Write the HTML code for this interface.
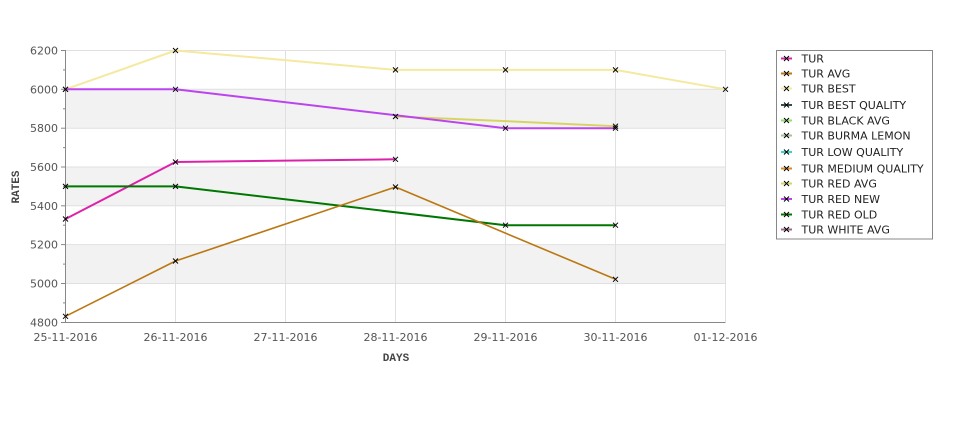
<!DOCTYPE html>
<html><head><meta charset="utf-8"><style>
html,body{margin:0;padding:0;background:#fff;}
svg{display:block;}
text{font-family:"DejaVu Sans","Liberation Sans",sans-serif;}
</style></head><body>
<svg width="975" height="429" viewBox="0 0 975 429" xmlns="http://www.w3.org/2000/svg">
<defs>
<g id="m"><path d="M-2.5,-2.5L2.5,2.5M-2.5,2.5L2.5,-2.5" stroke="#000" stroke-width="1" fill="none"/></g>
</defs>
<!-- bands -->
<rect x="65.5" y="89.2" width="660" height="38.9" fill="#f2f2f2"/>
<rect x="65.5" y="166.8" width="660" height="38.9" fill="#f2f2f2"/>
<rect x="65.5" y="244.4" width="660" height="38.9" fill="#f2f2f2"/>
<!-- grid -->
<g stroke="#e0e0e0" stroke-width="1">
<line x1="65.5" x2="725.5" y1="50.5" y2="50.5"/>
<line x1="65.5" x2="725.5" y1="89.3" y2="89.3"/>
<line x1="65.5" x2="725.5" y1="128.2" y2="128.2"/>
<line x1="65.5" x2="725.5" y1="167" y2="167"/>
<line x1="65.5" x2="725.5" y1="205.8" y2="205.8"/>
<line x1="65.5" x2="725.5" y1="244.6" y2="244.6"/>
<line x1="65.5" x2="725.5" y1="283.5" y2="283.5"/>
<line x1="175.5" x2="175.5" y1="50" y2="322"/>
<line x1="285.5" x2="285.5" y1="50" y2="322"/>
<line x1="395.5" x2="395.5" y1="50" y2="322"/>
<line x1="505.5" x2="505.5" y1="50" y2="322"/>
<line x1="615.5" x2="615.5" y1="50" y2="322"/>
<line x1="725.5" x2="725.5" y1="50" y2="322"/>
</g>
<!-- axes -->
<g stroke="#888" stroke-width="1">
<line x1="65.5" x2="65.5" y1="50" y2="322.5"/>
<line x1="65" x2="725.5" y1="322.5" y2="322.5"/>
<line x1="61" x2="65.5" y1="50.5" y2="50.5"/>
<line x1="61" x2="65.5" y1="89.3" y2="89.3"/>
<line x1="61" x2="65.5" y1="128.2" y2="128.2"/>
<line x1="61" x2="65.5" y1="167" y2="167"/>
<line x1="61" x2="65.5" y1="205.8" y2="205.8"/>
<line x1="61" x2="65.5" y1="244.6" y2="244.6"/>
<line x1="61" x2="65.5" y1="283.5" y2="283.5"/>
<line x1="61" x2="65.5" y1="322.5" y2="322.5"/>
<line x1="63" x2="65.5" y1="69.9" y2="69.9"/>
<line x1="63" x2="65.5" y1="108.8" y2="108.8"/>
<line x1="63" x2="65.5" y1="147.6" y2="147.6"/>
<line x1="63" x2="65.5" y1="186.4" y2="186.4"/>
<line x1="63" x2="65.5" y1="225.2" y2="225.2"/>
<line x1="63" x2="65.5" y1="264.1" y2="264.1"/>
<line x1="63" x2="65.5" y1="302.9" y2="302.9"/>
</g>
<!-- y labels -->
<g font-size="11" fill="#555" text-anchor="end">
<text x="58" y="54.5">6200</text>
<text x="58" y="93.3">6000</text>
<text x="58" y="132.2">5800</text>
<text x="58" y="171">5600</text>
<text x="58" y="209.8">5400</text>
<text x="58" y="248.6">5200</text>
<text x="58" y="287.5">5000</text>
<text x="58" y="326.5">4800</text>
</g>
<!-- x labels -->
<g font-size="11" fill="#555" text-anchor="middle">
<text x="65.5" y="341">25-11-2016</text>
<text x="175.5" y="341">26-11-2016</text>
<text x="285.5" y="341">27-11-2016</text>
<text x="395.5" y="341">28-11-2016</text>
<text x="505.5" y="341">29-11-2016</text>
<text x="615.5" y="341">30-11-2016</text>
<text x="725.5" y="341">01-12-2016</text>
</g>
<text x="396" y="361" font-size="11" font-weight="bold" fill="#444" text-anchor="middle" style="font-family:'Liberation Mono',monospace">DAYS</text>
<text transform="translate(19,187) rotate(-90)" font-size="11" font-weight="bold" fill="#444" text-anchor="middle" style="font-family:'Liberation Mono',monospace">RATES</text>
<!-- series -->
<g fill="none" stroke-linejoin="round">
<polyline stroke="#f5e9a0" stroke-width="2" points="65.5,89.3 175.5,50.5 395.5,69.9 505.5,69.9 615.5,69.9 725.5,89.3"/>
<polyline stroke="#d8d464" stroke-width="2" points="395.5,116.5 505.5,121.1 615.5,126.2"/>
<polyline stroke="#bb44ee" stroke-width="2" points="65.5,89.3 175.5,89.3 505.5,128.2 615.5,128.2"/>
<polyline stroke="#dd22aa" stroke-width="2" points="65.5,219 175.5,162 395.5,159.3"/>
<polyline stroke="#007700" stroke-width="2" points="65.5,186.4 175.5,186.4 505.5,225.2 615.5,225.2"/>
<polyline stroke="#bb7711" stroke-width="1.6" points="65.5,316.3 175.5,261 395.5,187 615.5,279.3"/>
</g>
<!-- markers -->
<g>
<use href="#m" x="65.5" y="89.3"/><use href="#m" x="175.5" y="50.5"/><use href="#m" x="395.5" y="69.9"/><use href="#m" x="505.5" y="69.9"/><use href="#m" x="615.5" y="69.9"/><use href="#m" x="725.5" y="89.3"/>
<use href="#m" x="395.5" y="116.5"/><use href="#m" x="615.5" y="126.2"/>
<use href="#m" x="65.5" y="89.3"/><use href="#m" x="175.5" y="89.3"/><use href="#m" x="505.5" y="128.2"/><use href="#m" x="615.5" y="128.2"/>
<use href="#m" x="65.5" y="219"/><use href="#m" x="175.5" y="162"/><use href="#m" x="395.5" y="159.3"/>
<use href="#m" x="65.5" y="186.4"/><use href="#m" x="175.5" y="186.4"/><use href="#m" x="505.5" y="225.2"/><use href="#m" x="615.5" y="225.2"/>
<use href="#m" x="65.5" y="316.3"/><use href="#m" x="175.5" y="261"/><use href="#m" x="395.5" y="187"/><use href="#m" x="615.5" y="279.3"/>
</g>
<!-- legend -->
<rect x="776.5" y="50.5" width="156" height="188.5" fill="#fff" stroke="#888" stroke-width="1"/>
<g stroke-width="2">
<line x1="781" x2="792" y1="58.5" y2="58.5" stroke="#dd22aa"/>
<line x1="781" x2="792" y1="73.5" y2="73.5" stroke="#bb7711"/>
<line x1="781" x2="792" y1="88.5" y2="88.5" stroke="#f5e9a0"/>
<line x1="781" x2="792" y1="105" y2="105" stroke="#2f4f4f"/>
<line x1="781" x2="792" y1="120.5" y2="120.5" stroke="#90e070"/>
<line x1="781" x2="792" y1="135.5" y2="135.5" stroke="#a8c098"/>
<line x1="781" x2="792" y1="152" y2="152" stroke="#30d8c8"/>
<line x1="781" x2="792" y1="168.5" y2="168.5" stroke="#e08820"/>
<line x1="781" x2="792" y1="183.5" y2="183.5" stroke="#d8d464"/>
<line x1="781" x2="792" y1="199" y2="199" stroke="#bb44ee"/>
<line x1="781" x2="792" y1="214.5" y2="214.5" stroke="#007700"/>
<line x1="781" x2="792" y1="229.5" y2="229.5" stroke="#9a6a88"/>
</g>
<g>
<use href="#m" x="786.5" y="58.5"/><use href="#m" x="786.5" y="73.5"/><use href="#m" x="786.5" y="88.5"/><use href="#m" x="786.5" y="105"/><use href="#m" x="786.5" y="120.5"/><use href="#m" x="786.5" y="135.5"/><use href="#m" x="786.5" y="152"/><use href="#m" x="786.5" y="168.5"/><use href="#m" x="786.5" y="183.5"/><use href="#m" x="786.5" y="199"/><use href="#m" x="786.5" y="214.5"/><use href="#m" x="786.5" y="229.5"/>
</g>
<g font-size="11" fill="#222">
<text x="801.5" y="62.5">TUR</text>
<text x="801.5" y="77.5">TUR AVG</text>
<text x="801.5" y="92.5">TUR BEST</text>
<text x="801.5" y="109">TUR BEST QUALITY</text>
<text x="801.5" y="124.5">TUR BLACK AVG</text>
<text x="801.5" y="139.5">TUR BURMA LEMON</text>
<text x="801.5" y="156">TUR LOW QUALITY</text>
<text x="801.5" y="172.5">TUR MEDIUM QUALITY</text>
<text x="801.5" y="187.5">TUR RED AVG</text>
<text x="801.5" y="203">TUR RED NEW</text>
<text x="801.5" y="218.5">TUR RED OLD</text>
<text x="801.5" y="233.5">TUR WHITE AVG</text>
</g>
</svg>
</body></html>
